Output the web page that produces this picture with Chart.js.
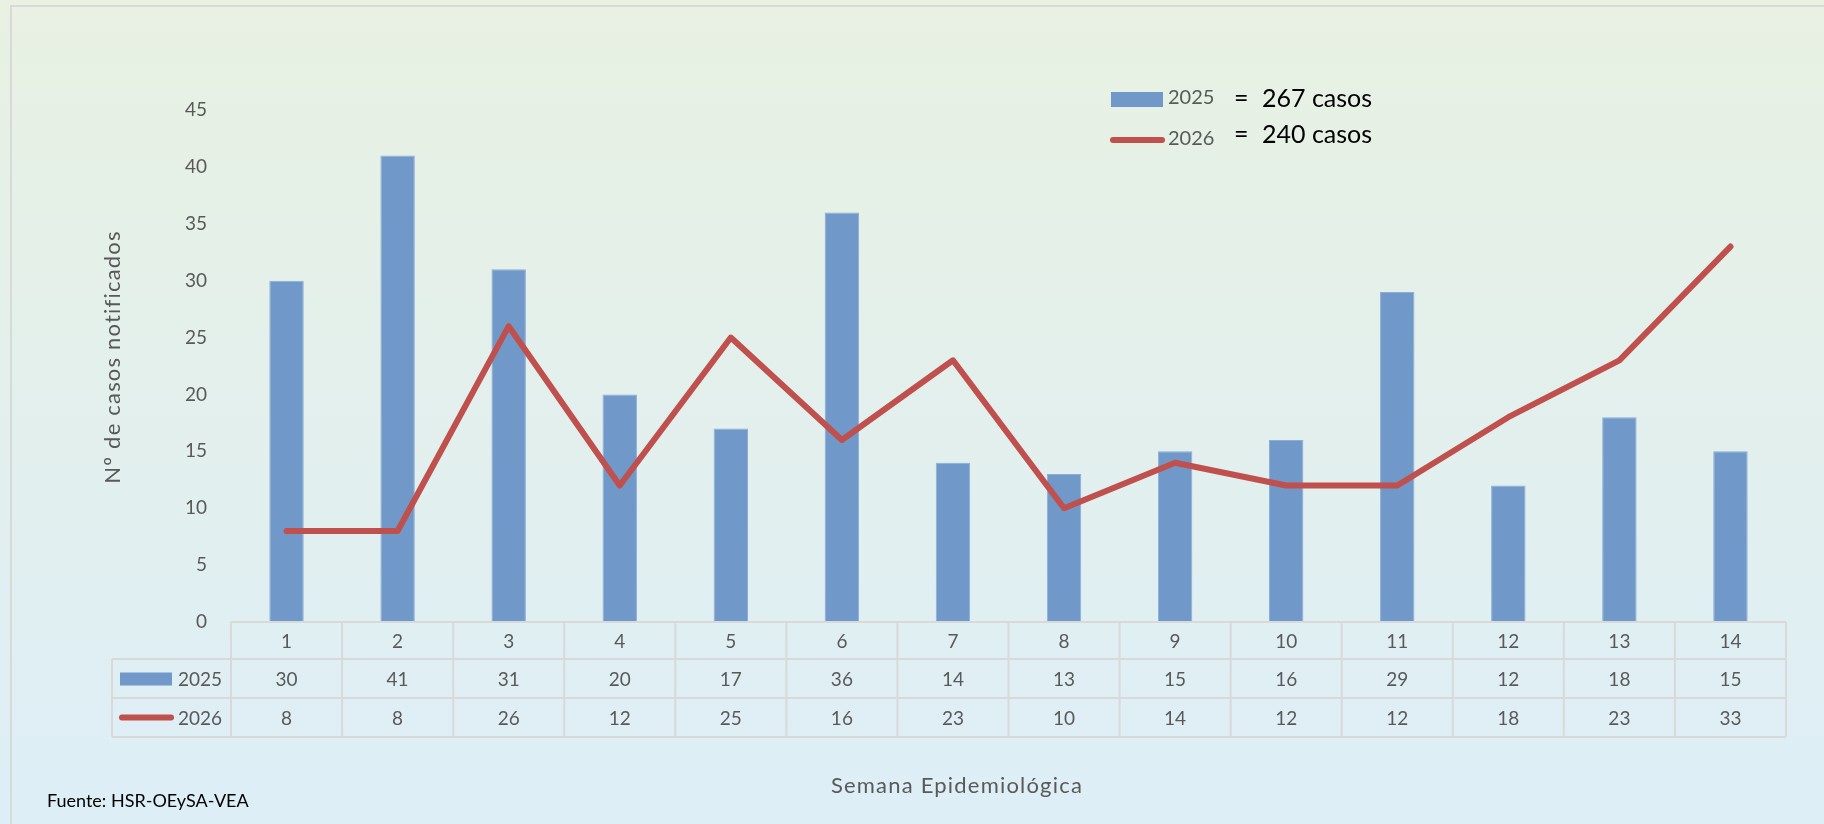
<!DOCTYPE html>
<html>
<head>
<meta charset="utf-8">
<script src="https://cdn.jsdelivr.net/npm/chart.js@4.4.1/dist/chart.umd.min.js"></script>
<style>
  body { margin: 0; background: #e3eff0; }
  #wrap { width: 1824px; height: 824px; }
</style>
</head>
<body>
<div id="wrap"><canvas id="casesChart" width="1824" height="824"></canvas></div>
<script>
const semanas = ['1', '2', '3', '4', '5', '6', '7', '8', '9', '10', '11', '12', '13', '14'];
const casos2025 = [30, 41, 31, 20, 17, 36, 14, 13, 15, 16, 29, 12, 18, 15];
const casos2026 = [8, 8, 26, 12, 25, 16, 23, 10, 14, 12, 12, 18, 23, 33];
const seriesNames = ['2025', '2026'];
const totalsText = ['267 casos', '240 casos'];
const yTicks = [0, 5, 10, 15, 20, 25, 30, 35, 40, 45];

const BLUE = '#7099c9';
const RED = '#c0504d';
const GRAY = '#595959';
const GRID = '#d9d9d9';
const FONT = 'Lato, "Open Sans", sans-serif';

// background gradient + outer frame
const backgroundPlugin = {
    id: 'background',
    beforeDraw(chart) {
        const ctx = chart.ctx;
        const g = ctx.createLinearGradient(0, 0, 0, chart.height);
        g.addColorStop(0, '#e8f1e2');
        g.addColorStop(1, '#ddeef7');
        ctx.save();
        ctx.fillStyle = g;
        ctx.fillRect(0, 0, chart.width, chart.height);
        ctx.strokeStyle = GRID;
        ctx.lineWidth = 2;
        ctx.beginPath();
        ctx.moveTo(11, chart.height);
        ctx.lineTo(11, 6);
        ctx.lineTo(chart.width, 6);
        ctx.stroke();
        ctx.restore();
    }
};

// data table under the plot, titles, legend, source
const tablePlugin = {
    id: 'dataTable',
    afterDraw(chart) {
        const ctx = chart.ctx;
        const x = chart.scales.x;
        const area = chart.chartArea;
        const half = (x.getPixelForValue(1) - x.getPixelForValue(0)) / 2;
        const rows = [area.bottom, area.bottom + 37, area.bottom + 76, area.bottom + 115];
        const legendLeft = 112;

        ctx.save();
        ctx.strokeStyle = GRID;
        ctx.lineWidth = 2;
        ctx.beginPath();
        ctx.moveTo(area.left, rows[0]);
        ctx.lineTo(area.right, rows[0]);
        for (let r = 1; r < rows.length; r++) {
            ctx.moveTo(legendLeft, rows[r]);
            ctx.lineTo(area.right, rows[r]);
        }
        ctx.moveTo(legendLeft, rows[1]);
        ctx.lineTo(legendLeft, rows[3]);
        for (let i = 0; i <= semanas.length; i++) {
            const px = x.getPixelForValue(i) - half;
            ctx.moveTo(px, rows[0]);
            ctx.lineTo(px, rows[3]);
        }
        ctx.stroke();

        ctx.fillStyle = GRAY;
        ctx.font = '19px ' + FONT;
        ctx.textAlign = 'center';
        ctx.textBaseline = 'middle';
        semanas.forEach((s, i) => {
            const px = x.getPixelForValue(i);
            ctx.fillText(s, px, (rows[0] + rows[1]) / 2 + 1);
            ctx.fillText(String(casos2025[i]), px, (rows[1] + rows[2]) / 2 + 1);
            ctx.fillText(String(casos2026[i]), px, (rows[2] + rows[3]) / 2 + 1);
        });

        // table legend keys
        ctx.fillStyle = BLUE;
        ctx.fillRect(120, (rows[1] + rows[2]) / 2 - 6, 52, 13);
        ctx.strokeStyle = RED;
        ctx.lineWidth = 6;
        ctx.lineCap = 'round';
        ctx.beginPath();
        ctx.moveTo(122, (rows[2] + rows[3]) / 2);
        ctx.lineTo(171, (rows[2] + rows[3]) / 2);
        ctx.stroke();
        ctx.fillStyle = GRAY;
        ctx.textAlign = 'right';
        ctx.fillText(seriesNames[0], 222, (rows[1] + rows[2]) / 2 + 1);
        ctx.fillText(seriesNames[1], 222, (rows[2] + rows[3]) / 2 + 1);

        // axis titles
        ctx.font = '22px ' + FONT;
        ctx.letterSpacing = '1.2px';
        ctx.textAlign = 'center';
        ctx.save();
        ctx.translate(113, 357);
        ctx.rotate(-Math.PI / 2);
        ctx.fillText('Nº de casos notificados', 0, 0);
        ctx.restore();
        ctx.fillText('Semana Epidemiológica', 957, 786);
        ctx.letterSpacing = '0px';

        // source
        ctx.fillStyle = '#000000';
        ctx.font = '18px ' + FONT;
        ctx.textAlign = 'left';
        ctx.fillText('Fuente: HSR-OEySA-VEA', 47, 801);

        // top legend
        ctx.fillStyle = BLUE;
        ctx.fillRect(1111, 92, 52, 15);
        ctx.strokeStyle = RED;
        ctx.lineWidth = 6;
        ctx.beginPath();
        ctx.moveTo(1113, 140);
        ctx.lineTo(1162, 140);
        ctx.stroke();
        ctx.fillStyle = GRAY;
        ctx.font = '20px ' + FONT;
        ctx.fillText(seriesNames[0], 1168, 98);
        ctx.fillText(seriesNames[1], 1168, 139);
        ctx.fillStyle = '#000000';
        ctx.font = '25px ' + FONT;
        ctx.fillText('=', 1234, 99);
        ctx.fillText(totalsText[0], 1262, 99);
        ctx.fillText('=', 1234, 135);
        ctx.fillText(totalsText[1], 1262, 135);
        ctx.restore();
    }
};

new Chart(document.getElementById('casesChart'), {
    data: {
        labels: semanas,
        datasets: [
            {
                type: 'line',
                label: seriesNames[1],
                data: casos2026,
                borderColor: RED,
                borderWidth: 6,
                borderCapStyle: 'round',
                borderJoinStyle: 'round',
                pointRadius: 0,
                tension: 0,
                fill: false,
                order: 0
            },
            {
                type: 'bar',
                label: seriesNames[0],
                data: casos2025,
                backgroundColor: BLUE,
                borderColor: '#8cadd6',
                borderWidth: 1,
                barPercentage: 0.31,
                categoryPercentage: 1,
                order: 1
            }
        ]
    },
    options: {
        responsive: false,
        animation: false,
        layout: { padding: { left: 131, right: 38, top: 110, bottom: 202 } },
        plugins: { legend: { display: false }, tooltip: { enabled: false } },
        scales: {
            x: { display: false },
            y: {
                min: 0,
                max: 45,
                afterFit: scale => { scale.width = 100; },
                afterBuildTicks: scale => { scale.ticks = yTicks.map(v => ({ value: v })); },
                grid: { display: false, drawTicks: false },
                border: { display: false },
                ticks: { color: GRAY, font: { family: FONT, size: 19 }, padding: 24 }
            }
        }
    },
    plugins: [backgroundPlugin, tablePlugin]
});
</script>
</body>
</html>
